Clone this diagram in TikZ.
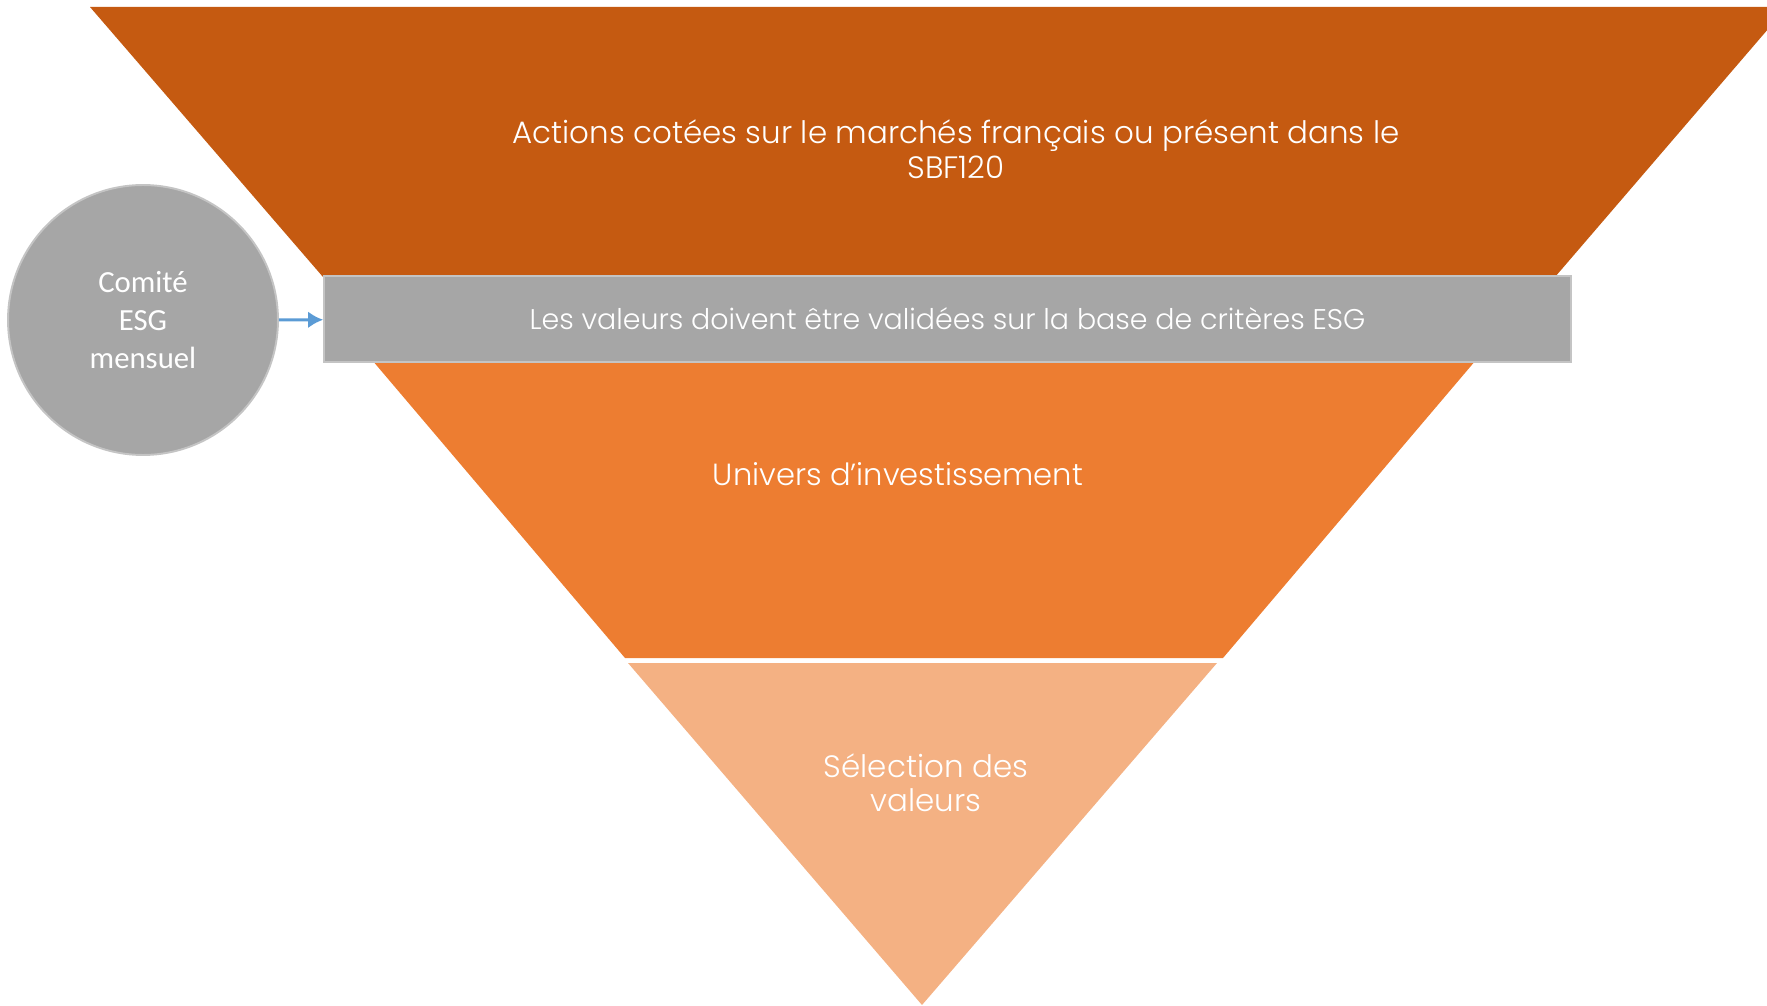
\documentclass[tikz,border=0pt]{standalone}
\usepackage{fontspec}
\setmainfont{Poppins}[UprightFont=* Light]
\newfontfamily\calibri{Carlito}
\usepackage{xcolor}
\usepackage{tikz}
\usetikzlibrary {positioning}
\usetikzlibrary{arrows.meta}
\definecolor{rust}{HTML}{C55A11}
\definecolor{tangerine}{HTML}{ED7D31}
\definecolor{peach}{HTML}{F4B183}
\definecolor{stone}{HTML}{A6A6A6}
\definecolor{rim}{HTML}{C4C4C4}
\definecolor{sky}{HTML}{5B9BD5}
\tikzset{link/.style = {->,> = {Latex[length=8.5pt,width=9.5pt]}}}

\begin{document}
\begin{tikzpicture}[x=0.02cm,y=-0.02cm,
    label text/.style={text=white,font=\fontsize{17.6}{19.8}\selectfont,align=center},
    band node/.style={rectangle,fill=stone,draw=rim,line width=1.1pt,minimum width=24.94cm,minimum height=1.72cm,inner sep=0pt},
    round node/.style={circle,fill=stone,draw=rim,line width=1.1pt,minimum size=5.4cm,inner sep=0pt,text=white,align=center,font=\calibri\fontsize{17.5}{21.6}\selectfont}]
    \useasboundingbox (0,0) rectangle (1767,1006);

    % funnel
    \fill[rust] (90,7) -- (1787,7) -- (1555,277) -- (323,277) -- cycle;
    \fill[tangerine] (372,360) -- (1476,360) -- (1223,658) -- (625,658) -- cycle;
    \fill[peach] (628,663) -- (1217,663) -- (922,1005) -- cycle;

    \node[label text] (actions) at (956,149) {Actions cotées sur le marchés français ou présent dans le\\SBF120};
    \node[band node, label text, font=\fontsize{16.2}{18}\selectfont] (band) at (947.5,319) {Les valeurs doivent être validées sur la base de critères ESG};
    \node[label text, font=\fontsize{17.4}{19.6}\selectfont] (univers) at (898,474) {Univers d’investissement};
    \node[label text, font=\fontsize{17.6}{19.2}\selectfont] (selection) at (926,783) {Sélection des\\valeurs};

    \node[round node] (esg) at (143,320) {Comité\\ESG\\mensuel};

    \path[link, sky, line width=1.7pt] (esg) edge[] node {} (band);
\end{tikzpicture}
\end{document}
